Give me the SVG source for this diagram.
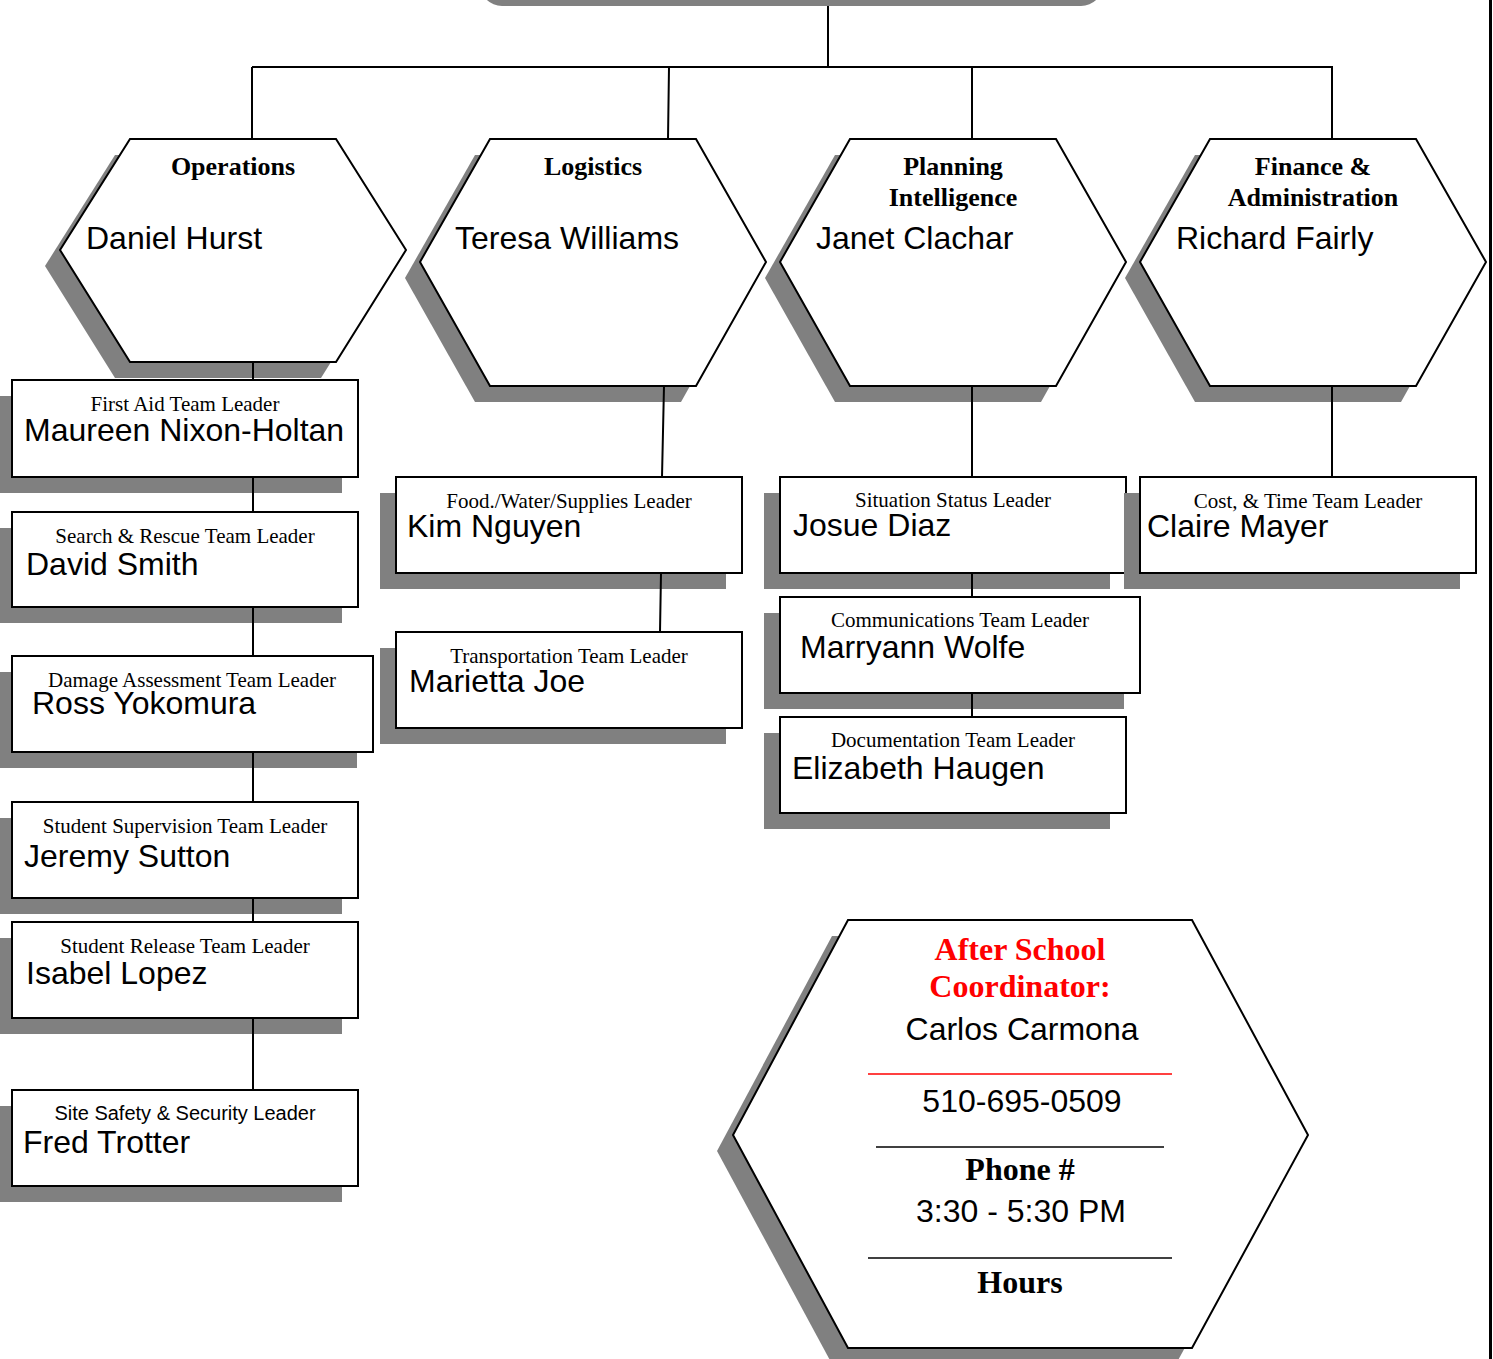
<svg xmlns="http://www.w3.org/2000/svg" width="1493" height="1359" viewBox="0 0 1493 1359">
<style>
.sh{fill:#808080;stroke:none}
.hx{fill:#fff;stroke:#000;stroke-width:2}
.bx{fill:#fff;stroke:#000;stroke-width:2}
.ln{fill:none;stroke:#000;stroke-width:2}
.tt{font-family:"Liberation Serif","Times New Roman",serif;font-weight:bold;font-size:26px;text-anchor:middle;fill:#000}
.nm{font-family:"Liberation Sans",Arial,sans-serif;font-size:32px;fill:#000}
.st{font-family:"Liberation Serif","Times New Roman",serif;font-size:21px;text-anchor:middle;fill:#000}
.sa{font-family:"Liberation Sans",Arial,sans-serif;font-size:20px;text-anchor:middle;fill:#000}
.rb{font-family:"Liberation Serif","Times New Roman",serif;font-weight:bold;font-size:32px;text-anchor:middle;fill:#ff0000}
.bb{font-family:"Liberation Serif","Times New Roman",serif;font-weight:bold;font-size:32px;text-anchor:middle;fill:#000}
.cn{font-family:"Liberation Sans",Arial,sans-serif;font-size:32px;text-anchor:middle;fill:#000}
</style>
<rect width="1493" height="1359" fill="#fff"/>
<g id="top-shadow"><rect class="sh" x="480" y="-40" width="623" height="46" rx="22"/></g>

<g id="operations">
<polygon class="sh" points="115,155 321,155 391,266 321,378 115,378 45,266"/>
<polygon class="hx" points="130,139 336,139 406,250 336,362 130,362 60,250"/>
<text class="tt" x="233" y="175">Operations</text>
<text class="nm" x="86" y="249">Daniel Hurst</text>
</g>
<g id="logistics">
<polygon class="sh" points="475,155 681,155 751,278 681,402 475,402 405,278"/>
<polygon class="hx" points="490,139 696,139 766,262 696,386 490,386 420,262"/>
<text class="tt" x="593" y="175">Logistics</text>
<text class="nm" x="455" y="249">Teresa Williams</text>
</g>
<g id="planning">
<polygon class="sh" points="835,155 1041,155 1111,278 1041,402 835,402 765,278"/>
<polygon class="hx" points="850,139 1056,139 1126,262 1056,386 850,386 780,262"/>
<text class="tt" x="953" y="175">Planning</text>
<text class="tt" x="953" y="206">Intelligence</text>
<text class="nm" x="816" y="249">Janet Clachar</text>
</g>
<g id="finance">
<polygon class="sh" points="1195,155 1401,155 1471,278 1401,402 1195,402 1125,278"/>
<polygon class="hx" points="1210,139 1416,139 1486,262 1416,386 1210,386 1140,262"/>
<text class="tt" x="1313" y="175">Finance &amp;</text>
<text class="tt" x="1313" y="206">Administration</text>
<text class="nm" x="1176" y="249">Richard Fairly</text>
</g>

<g id="first-aid">
<rect class="sh" x="-4" y="396" width="346" height="97"/>
<rect class="bx" x="12" y="380" width="346" height="97"/>
<text class="st" x="185" y="411">First Aid Team Leader</text>
<text class="nm" x="24" y="441">Maureen Nixon-Holtan</text>
</g>
<g id="search-rescue">
<rect class="sh" x="-4" y="528" width="346" height="95"/>
<rect class="bx" x="12" y="512" width="346" height="95"/>
<text class="st" x="185" y="543">Search &amp; Rescue Team Leader</text>
<text class="nm" x="26" y="575">David Smith</text>
</g>
<g id="damage-assessment">
<rect class="sh" x="-4" y="672" width="361" height="96"/>
<rect class="bx" x="12" y="656" width="361" height="96"/>
<text class="st" x="192" y="687">Damage Assessment Team Leader</text>
<text class="nm" x="32" y="714">Ross Yokomura</text>
</g>
<g id="student-supervision">
<rect class="sh" x="-4" y="818" width="346" height="96"/>
<rect class="bx" x="12" y="802" width="346" height="96"/>
<text class="st" x="185" y="833">Student Supervision Team Leader</text>
<text class="nm" x="24" y="867">Jeremy Sutton</text>
</g>
<g id="student-release">
<rect class="sh" x="-4" y="938" width="346" height="96"/>
<rect class="bx" x="12" y="922" width="346" height="96"/>
<text class="st" x="185" y="953">Student Release Team Leader</text>
<text class="nm" x="26" y="984">Isabel Lopez</text>
</g>
<g id="site-safety">
<rect class="sh" x="-4" y="1106" width="346" height="96"/>
<rect class="bx" x="12" y="1090" width="346" height="96"/>
<text class="sa" x="185" y="1120">Site Safety &amp; Security Leader</text>
<text class="nm" x="23" y="1153">Fred Trotter</text>
</g>

<g id="food-water">
<rect class="sh" x="380" y="493" width="346" height="96"/>
<rect class="bx" x="396" y="477" width="346" height="96"/>
<text class="st" x="569" y="508">Food./Water/Supplies Leader</text>
<text class="nm" x="407" y="537">Kim Nguyen</text>
</g>
<g id="transportation">
<rect class="sh" x="380" y="648" width="346" height="96"/>
<rect class="bx" x="396" y="632" width="346" height="96"/>
<text class="st" x="569" y="663">Transportation Team Leader</text>
<text class="nm" x="409" y="692">Marietta Joe</text>
</g>

<g id="situation-status">
<rect class="sh" x="764" y="493" width="346" height="96"/>
<rect class="bx" x="780" y="477" width="346" height="96"/>
<text class="st" x="953" y="507">Situation Status Leader</text>
<text class="nm" x="793" y="536">Josue Diaz</text>
</g>
<g id="communications">
<rect class="sh" x="764" y="613" width="360" height="96"/>
<rect class="bx" x="780" y="597" width="360" height="96"/>
<text class="st" x="960" y="627">Communications Team Leader</text>
<text class="nm" x="800" y="658">Marryann Wolfe</text>
</g>
<g id="documentation">
<rect class="sh" x="764" y="733" width="346" height="96"/>
<rect class="bx" x="780" y="717" width="346" height="96"/>
<text class="st" x="953" y="747">Documentation Team Leader</text>
<text class="nm" x="792" y="779">Elizabeth Haugen</text>
</g>

<g id="cost-time">
<rect class="sh" x="1124" y="493" width="336" height="96"/>
<rect class="bx" x="1140" y="477" width="336" height="96"/>
<text class="st" x="1308" y="508">Cost, &amp; Time Team Leader</text>
<text class="nm" x="1147" y="537">Claire Mayer</text>
</g>

<g id="after-school">
<polygon class="sh" points="832,936 1176,936 1292,1151 1176,1364 832,1364 717,1151"/>
<polygon class="hx" points="848,920 1192,920 1308,1135 1192,1348 848,1348 733,1135"/>
<text class="rb" x="1020" y="960">After School</text>
<text class="rb" x="1020" y="997">Coordinator:</text>
<text class="cn" x="1022" y="1040">Carlos Carmona</text>
<line x1="868" y1="1074" x2="1172" y2="1074" stroke="#ff0000" stroke-width="1.5"/>
<text class="cn" x="1022" y="1112">510-695-0509</text>
<line x1="876" y1="1147" x2="1164" y2="1147" stroke="#000" stroke-width="1.5"/>
<text class="bb" x="1020" y="1180">Phone #</text>
<text class="cn" x="1021" y="1222">3:30 - 5:30 PM</text>
<line x1="868" y1="1258" x2="1172" y2="1258" stroke="#000" stroke-width="1.5"/>
<text class="bb" x="1020" y="1293">Hours</text>
</g>

<g id="connectors">
<path class="ln" d="M828,6 V67 M252,67 H1333 M252,67 V139 M669,67 L668,139 M972,67 V139 M1332,67 V139"/>
<path class="ln" d="M253,362 V380 M253,477 V512 M253,607 V656 M253,752 V802 M253,898 V922 M253,1018 V1090"/>
<path class="ln" d="M664,386 L662,477 M661,573 L660,632"/>
<path class="ln" d="M972,386 V477 M972,573 V597 M972,693 V717"/>
<path class="ln" d="M1332,386 V477"/>
</g>

<g id="page-edge"><rect x="1489" y="0" width="3" height="1359" fill="#000"/></g>
</svg>
